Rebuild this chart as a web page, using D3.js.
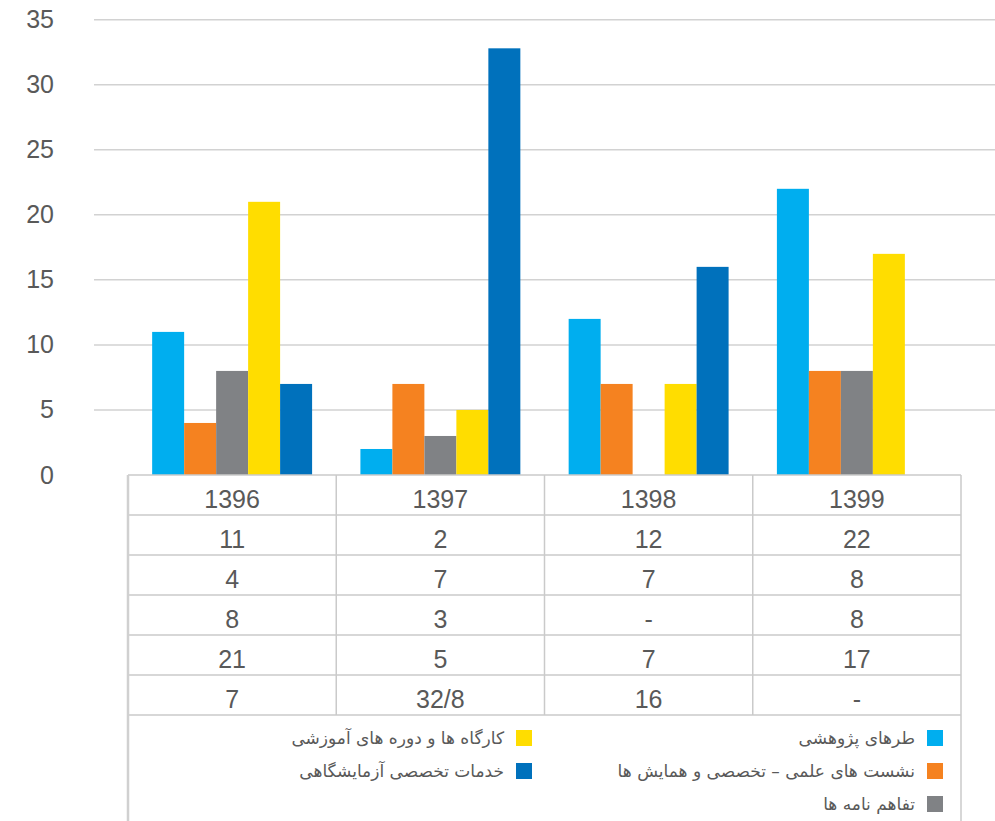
<!DOCTYPE html>
<html>
<head>
<meta charset="utf-8">
<script src="https://cdn.jsdelivr.net/npm/d3@7"></script>
<style>
  body { margin: 0; background: #fff; }
  svg { display: block; }
</style>
</head>
<body>
<svg id="chart" width="995" height="821"></svg>
<script>
// data
var years = ["1396", "1397", "1398", "1399"];
var seriesNames = [
  "طرهای پژوهشی",
  "نشست های علمی – تخصصی و همایش ها",
  "تفاهم نامه ها",
  "کارگاه ها و دوره های آموزشی",
  "خدمات تخصصی آزمایشگاهی"
];
var seriesColors = ["#00aeef", "#f58220", "#808285", "#ffdd00", "#0071bc"];
var research    = [11, 2, 12, 22];
var meetings    = [4, 7, 7, 8];
var agreements  = [8, 3, null, 8];
var workshops   = [21, 5, 7, 17];
var labServices = [7, 32.8, 16, null];
var yTicks = [0, 5, 10, 15, 20, 25, 30, 35];

var values = [research, meetings, agreements, workshops, labServices];

var svg = d3.select("#chart");
var W = +svg.attr("width");
var textColor = "#595959";
var lineColor = "#cacaca";

var plot = {left: 128, right: 961, top: 19.7, bottom: 475};
var rowH = 40;

var x = d3.scaleBand().domain(years).range([plot.left, plot.right]);
var xs = d3.scaleBand().domain(d3.range(seriesNames.length))
  .range([0, x.bandwidth()])
  .paddingInner(0)
  .paddingOuter(0.755);
var y = d3.scaleLinear().domain([0, 35]).range([plot.bottom, plot.top]);

// gridlines
svg.append("g")
  .selectAll("line")
  .data(yTicks.filter(function(d) { return d > 0; }))
  .join("line")
  .attr("x1", 94)
  .attr("x2", W)
  .attr("y1", function(d) { return y(d); })
  .attr("y2", function(d) { return y(d); })
  .attr("stroke", "#d2d2d2")
  .attr("stroke-width", 1.5);

// y axis labels
var yAxis = d3.axisLeft(y).tickValues(yTicks).tickSize(0).tickPadding(0);
var ga = svg.append("g")
  .attr("transform", "translate(54,0)")
  .call(yAxis);
ga.select(".domain").remove();
ga.selectAll("text")
  .attr("fill", textColor)
  .attr("font-family", "'Liberation Sans', Arial, sans-serif")
  .attr("font-size", "25px");

// bars
var groups = svg.append("g")
  .selectAll("g")
  .data(years)
  .join("g")
  .attr("transform", function(d) { return "translate(" + x(d) + ",0)"; });

groups.selectAll("rect")
  .data(function(d, i) {
    return values.map(function(s, j) { return {s: j, v: s[i]}; })
      .filter(function(e) { return e.v != null; });
  })
  .join("rect")
  .attr("x", function(d) { return xs(d.s); })
  .attr("width", xs.bandwidth())
  .attr("y", function(d) { return y(d.v); })
  .attr("height", function(d) { return y(0) - y(d.v); })
  .attr("fill", function(d) { return seriesColors[d.s]; });

// data table
var fmt = function(v) {
  if (v == null) return "-";
  return String(v).replace(".", "/");
};
var rows = [years].concat(values.map(function(s) { return s.map(fmt); }));
var tableBottom = plot.bottom + rows.length * rowH;

var table = svg.append("g");
table.selectAll("line.h")
  .data(d3.range(rows.length + 1))
  .join("line")
  .attr("class", "h")
  .attr("x1", plot.left)
  .attr("x2", plot.right)
  .attr("y1", function(i) { return plot.bottom + i * rowH; })
  .attr("y2", function(i) { return plot.bottom + i * rowH; })
  .attr("stroke", lineColor)
  .attr("stroke-width", 1.5);

table.selectAll("line.v")
  .data(years.slice(1))
  .join("line")
  .attr("class", "v")
  .attr("x1", function(d) { return x(d); })
  .attr("x2", function(d) { return x(d); })
  .attr("y1", plot.bottom)
  .attr("y2", tableBottom)
  .attr("stroke", lineColor)
  .attr("stroke-width", 1.5);

// outer borders continue round the legend
table.append("line")
  .attr("x1", plot.left).attr("x2", plot.left)
  .attr("y1", plot.bottom).attr("y2", 821)
  .attr("stroke", "#d0d0d0")
  .attr("stroke-width", 2.5);
table.append("line")
  .attr("x1", plot.right).attr("x2", plot.right)
  .attr("y1", plot.bottom).attr("y2", 821)
  .attr("stroke", lineColor)
  .attr("stroke-width", 1.5);

rows.forEach(function(row, r) {
  table.append("g")
    .selectAll("text")
    .data(row)
    .join("text")
    .attr("x", function(d, i) { return x(years[i]) + x.bandwidth() / 2; })
    .attr("y", plot.bottom + r * rowH + 33)
    .attr("text-anchor", "middle")
    .attr("fill", textColor)
    .attr("font-family", "'Liberation Sans', Arial, sans-serif")
    .attr("font-size", "25px")
    .text(function(d) { return d; });
});

// legend: right column first (rtl), then left column
var legendCols = [{sw: 927, items: [0, 1, 2]}, {sw: 516, items: [3, 4]}];
var legTop = 730, legStep = 33, sw = 16;

legendCols.forEach(function(col) {
  var lg = svg.append("g")
    .selectAll("g")
    .data(col.items)
    .join("g")
    .attr("transform", function(d, i) { return "translate(" + col.sw + "," + (legTop + i * legStep) + ")"; });
  lg.append("rect")
    .attr("width", sw)
    .attr("height", sw)
    .attr("fill", function(d) { return seriesColors[d]; });
  lg.append("text")
    .attr("x", -12)
    .attr("y", 14)
    .attr("text-anchor", "end")
    .attr("fill", textColor)
    .attr("font-family", "'DejaVu Sans', 'Noto Sans', sans-serif")
    .attr("font-size", "17px")
    .text(function(d) { return seriesNames[d]; });
});
</script>
</body>
</html>
